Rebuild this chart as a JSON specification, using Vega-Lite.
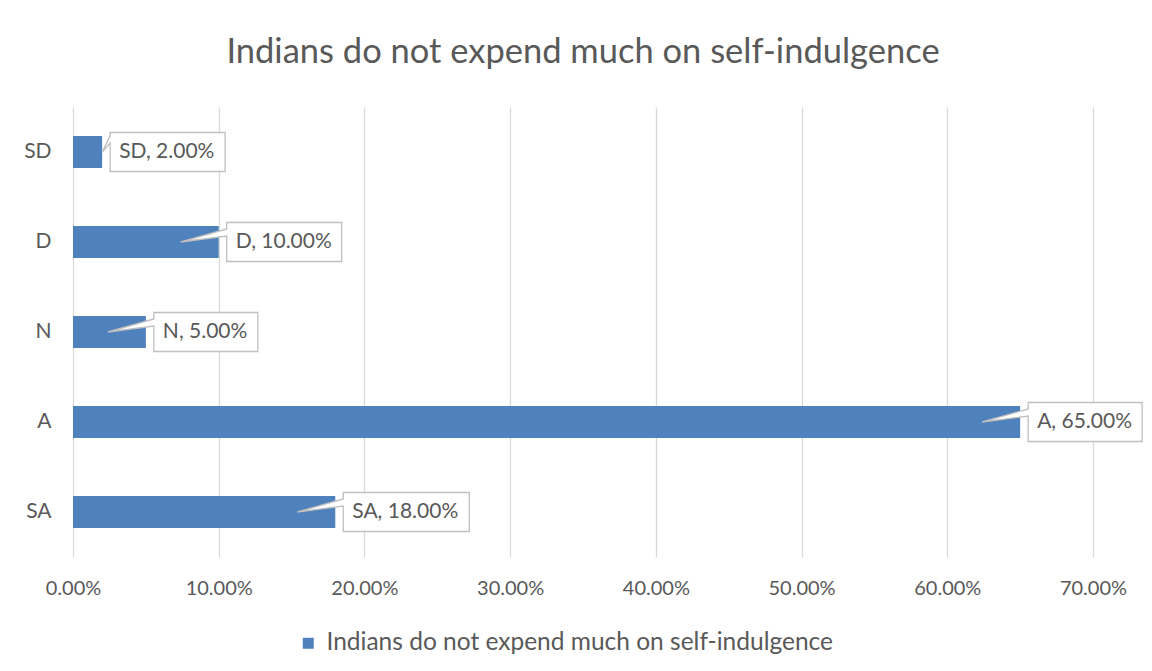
{
  "$schema": "https://vega.github.io/schema/vega-lite/v6.json",
  "width": 1020,
  "height": 450,
  "autosize": "none",
  "padding": {"left": 73, "top": 107, "right": 59, "bottom": 114},
  "background": "white",
  "config": {
    "view": {"stroke": null},
    "font": "Lato",
    "axis": {"labelFont": "Lato", "labelColor": "#595959", "labelFontSize": 20, "titleFontSize": 17}
  },
  "title": {
    "text": "Indians do not expend much on self-indulgence",
    "font": "Lato",
    "fontSize": 34.5,
    "fontWeight": "normal",
    "color": "#595959",
    "anchor": "middle",
    "offset": 37
  },
  "data": {
    "values": [
      {"cat": "SA", "value": 0.18, "label": "SA, 18.00%", "series": "Indians do not expend much on self-indulgence"},
      {"cat": "A", "value": 0.65, "label": "A, 65.00%", "series": "Indians do not expend much on self-indulgence"},
      {"cat": "N", "value": 0.05, "label": "N, 5.00%", "series": "Indians do not expend much on self-indulgence"},
      {"cat": "D", "value": 0.10, "label": "D, 10.00%", "series": "Indians do not expend much on self-indulgence"},
      {"cat": "SD", "value": 0.02, "label": "SD, 2.00%", "series": "Indians do not expend much on self-indulgence"}
    ]
  },
  "encoding": {
    "y": {
      "field": "cat",
      "type": "nominal",
      "sort": ["SD", "D", "N", "A", "SA"],
      "scale": {"paddingInner": 0.644, "paddingOuter": 0.322},
      "axis": {"title": null, "ticks": false, "domain": false, "labelPadding": 22, "grid": false, "labelFontSize": 21}
    },
    "x": {
      "field": "value",
      "type": "quantitative",
      "scale": {"domain": [0, 0.7], "nice": false},
      "axis": {
        "title": null,
        "format": ".2%",
        "values": [0, 0.1, 0.2, 0.3, 0.4, 0.5, 0.6, 0.7],
        "ticks": false,
        "domain": false,
        "grid": true,
        "gridColor": "#d9d9d9",
        "gridWidth": 1.3,
        "labelPadding": 21,
        "labelFlush": false
      }
    }
  },
  "layer": [
    {
      "mark": {"type": "bar", "orient": "horizontal"},
      "encoding": {
        "color": {
          "field": "series",
          "type": "nominal",
          "scale": {"range": ["#4F81BD"]},
          "legend": {
            "title": null,
            "orient": "none",
            "legendX": 223,
            "legendY": 524,
            "symbolType": "square",
            "symbolSize": 121,
            "symbolStrokeWidth": 0,
            "labelFont": "Lato",
            "labelFontSize": 24.5,
            "labelColor": "#595959",
            "labelLimit": 800,
            "labelOffset": 6,
            "padding": 0
          }
        }
      }
    },
    {
      "mark": {"type": "point", "filled": true, "fill": "white", "stroke": "#BFBFBF", "strokeWidth": 1.3, "opacity": 1, "size": 4},
      "encoding": {
        "shape": {
          "field": "cat",
          "type": "nominal",
          "legend": null,
          "scale": {
            "domain": ["SD", "D", "N", "A", "SA"],
            "range": [
              "M8,-19.5L123,-19.5L123,19.5L8,19.5L8,-9L0,0L8,-16Z",
              "M8,-19.5L123,-19.5L123,19.5L8,19.5L8,-6L-38,0L8,-13Z",
              "M8,-19.5L112,-19.5L112,19.5L8,19.5L8,-6L-38,0L8,-13Z",
              "M8,-19.5L122,-19.5L122,19.5L8,19.5L8,-6L-38,0L8,-13Z",
              "M8,-19.5L134,-19.5L134,19.5L8,19.5L8,-6L-38,0L8,-13Z"
            ]
          }
        }
      }
    },
    {
      "mark": {"type": "text", "align": "left", "baseline": "middle", "dx": 17, "font": "Lato", "fontSize": 21, "color": "#595959"},
      "encoding": {"text": {"field": "label"}}
    }
  ]
}
